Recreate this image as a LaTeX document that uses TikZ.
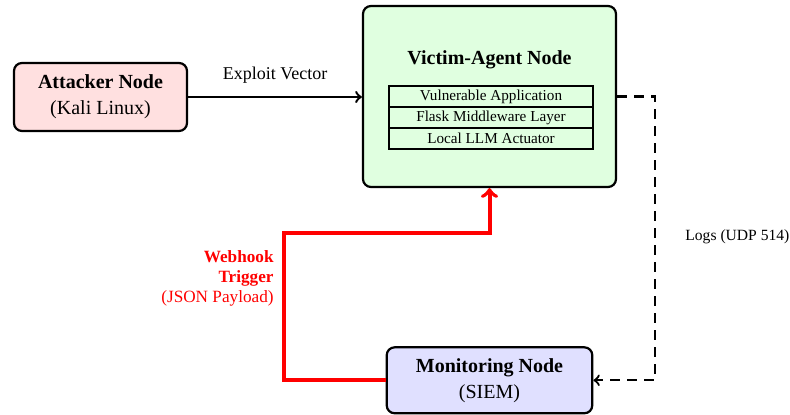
\documentclass[tikz,border=0pt]{standalone}
\usepackage{fontspec}
\setmainfont{Liberation Serif}
\usepackage{tikz}

\tikzset{
  hostbox/.style={draw, line width=1.1pt, rounded corners=4pt, align=center,
    font=\fontsize{10}{13}\selectfont},
  layerbox/.style={draw, line width=1pt, inner sep=0pt, minimum width=102.3pt,
    minimum height=10.4pt, font=\fontsize{7.6}{9}\selectfont}
}

\begin{document}
\begin{tikzpicture}[x=0.5pt, y=-0.5pt]

\useasboundingbox (0,0) rectangle (790,415);

% hosts
\node[hostbox, fill=red!12, minimum width=86.5pt, minimum height=34pt]
  (attacker) at (100.5,97) {\textbf{Attacker Node}\\(Kali Linux)};
\node[hostbox, fill=green!12, minimum width=126.5pt, minimum height=90.5pt]
  (victim) at (489.5,96.5) {};
\node[hostbox, fill=blue!12, minimum width=102.8pt, minimum height=33pt]
  (monitor) at (489.5,380.3) {\textbf{Monitoring Node}\\(SIEM)};

% victim stack
\node[font=\fontsize{10}{12}\selectfont\bfseries] (victimtitle) at (489.5,60) {Victim-Agent Node};
\foreach \name/\txt [count=\i] in {vuln/Vulnerable Application,
    flask/Flask Middleware Layer, llm/Local LLM Actuator}
  \node[layerbox] (\name) at (491,76+20.8*\i) {\txt};

% attack
\draw[line width=1.2pt,->] (attacker.east) -- (attacker.east -| victim.west)
  node[midway, above=3pt, font=\fontsize{9}{11}\selectfont] (exploit) {Exploit Vector};

% webhook
\coordinate (hookbend) at (284,233);
\draw[line width=2pt,red,->] (monitor.west) -| (hookbend) -| (victim.south);
\node[anchor=east, align=right, inner sep=0pt, text=red, font=\fontsize{8.6}{10}\selectfont]
  (webhook) at (274,278) {\textbf{Webhook}\\\textbf{Trigger}\\(JSON Payload)};

% logs
\draw[line width=1.1pt,dash pattern=on 5pt off 3.5pt,->] (victim.east) -- ++(38,0) |- (monitor.east);
\node[anchor=west, inner sep=0pt, font=\fontsize{7.8}{9}\selectfont] (logs) at (685,237) {Logs (UDP 514)};

\end{tikzpicture}
\end{document}
